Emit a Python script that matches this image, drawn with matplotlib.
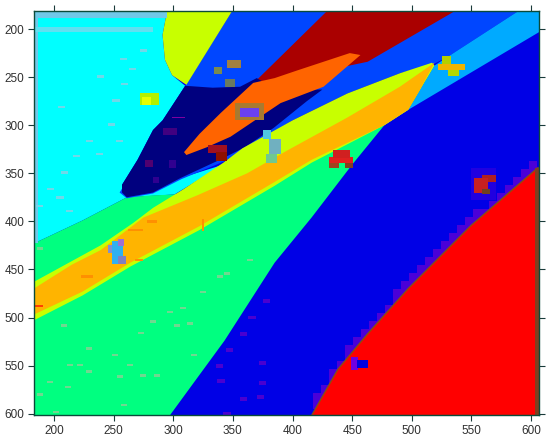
import matplotlib
matplotlib.use("Agg")
import matplotlib.pyplot as plt
import numpy as np
from matplotlib.path import Path

plt.rcParams["font.family"] = ["Liberation Sans", "DejaVu Sans"]

x_ticks = [200, 250, 300, 350, 400, 450, 500, 550, 600]
y_ticks = [200, 250, 300, 350, 400, 450, 500, 550, 600]

# class regions, outlines (x, y in map units)
cyan = [(183, 180), (295, 180), (291, 206), (293, 232), (299, 248), (310, 259), (291, 295), (283, 305),
        (270, 336), (257, 362), (257, 370), (261, 375), (301, 372), (342, 341), (306, 355),
        (261, 375), (224, 399), (183, 423)]
green = [(183, 423), (224, 399), (261, 375), (283, 373), (301, 372), (308, 370), (385, 331), (519, 238),
         (497, 284), (477, 300), (450, 341), (416, 396), (385, 443), (343, 524), (297, 602), (183, 602)]
bright_blue = [(350, 180), (591, 180), (530, 229), (519, 236), (490, 246), (446, 267), (400, 295),
               (358, 326), (342, 338), (307, 356), (283, 371), (261, 376), (255, 370), (310, 259)]
light_blue = [(591, 180), (607, 180), (607, 203), (497, 284), (507, 263), (519, 238), (530, 229)]
yellow_green = [(295, 180), (350, 180), (311, 258), (299, 248), (293, 232), (291, 206)]
dark_red = [(430, 180), (538, 180), (463, 234), (440, 240), (385, 262), (370, 253)]
navy = [(310, 259), (291, 295), (283, 305), (270, 336), (257, 362), (257, 370), (261, 375), (283, 370),
        (306, 355), (339, 336), (360, 323), (384, 303), (412, 275), (425, 263), (385, 262), (370, 251),
        (356, 260), (333, 261)]
dark_orange = [(457, 227), (448, 225), (404, 243), (385, 251), (367, 256), (340, 287), (322, 309),
               (309, 328), (311, 331), (328, 323), (348, 312), (390, 277), (426, 260)]
lime = [(183, 463), (239, 425), (266, 402), (283, 386), (308, 367), (342, 339), (358, 324), (400, 295),
        (446, 267), (490, 246), (517, 235), (519, 238), (507, 263), (497, 284), (477, 300),
        (416, 339), (385, 363), (322, 409), (264, 447), (224, 477), (183, 503)]
orange = [(183, 470), (215, 445), (239, 430), (275, 396), (320, 373), (362, 350), (396, 326), (446, 292),
          (490, 260), (519, 235), (507, 263), (497, 284), (477, 300), (416, 336), (385, 359), (322, 405),
          (264, 443), (224, 473), (183, 497)]
red = [(416, 602), (438, 554), (463, 517), (497, 470), (550, 404), (606, 344), (607, 602)]

# blotches of other classes: left, top, width, height, colour
blob_x = [272, 274, 334, 345, 343, 352, 356, 329, 336, 375, 380, 378, 245, 249, 254, 254,
          431, 434, 431, 444, 525, 522, 530, 550, 559, 552, 559, 449, 454,
          299, 291, 276, 296, 283, 262, 278, 223, 183, 268, 324]
blob_y = [266, 271, 239, 232, 252, 277, 282, 321, 328, 305, 314, 330, 425, 420, 418, 436,
          333, 326, 339, 339, 228, 236, 243, 345, 352, 355, 366, 541, 544,
          291, 303, 336, 336, 354, 408, 399, 456, 487, 439, 398]
blob_w = [16, 7, 7, 12, 9, 24, 16, 16, 9, 7, 10, 9, 7, 9, 5, 6,
          20, 14, 8, 7, 8, 23, 10, 21, 12, 12, 7, 6, 9,
          11, 12, 7, 6, 5, 13, 8, 10, 8, 7, 2]
blob_h = [13, 8, 8, 9, 8, 18, 9, 8, 9, 9, 16, 9, 8, 24, 8, 8,
          6, 8, 6, 6, 8, 7, 6, 33, 7, 15, 6, 14, 9,
          2, 7, 7, 9, 6, 2.5, 2.5, 2.5, 2.5, 2.5, 12]
blob_col = ["#b4f000", "#e6ff00", "#7a8a50", "#a08040", "#6a7a60", "#a87a30", "#6a40f0", "#a01020", "#901000",
            "#50c8e0", "#70b0c0", "#70c890", "#8090d0", "#30b0f0", "#a070d0", "#8080c0",
            "#e02020", "#d02020", "#a04020", "#804020", "#b4d000", "#f0b400", "#b4d800",
            "#2000e0", "#b02020", "#c82020", "#704020", "#7000e0", "#0000e0",
            "#8000a0", "#400080", "#500070", "#300090", "#300090",
            "#ff9000", "#ff9000", "#ff9000", "#ff4000", "#ff9000", "#ff9000"]

# small speckles scattered over the big classes
speck_cyan_x = [258, 239, 266, 275, 259, 252, 206, 248, 238, 230, 219, 209, 197, 205, 188, 213, 255]
speck_cyan_y = [230, 248, 240, 221, 256, 273, 280, 298, 329, 315, 331, 348, 365, 374, 383, 388, 315]
speck_green_x = [188, 208, 229, 213, 222, 251, 283, 303, 314, 297, 308, 273, 264, 255, 229, 197, 212, 188,
                 202, 259, 364, 345, 325, 339, 317, 275, 286]
speck_green_y = [427, 507, 531, 548, 548, 538, 503, 507, 505, 493, 489, 515, 548, 560, 555, 566, 571, 579,
                 597, 590, 439, 453, 472, 456, 538, 559, 559]
speck_blue_x = [378, 366, 359, 347, 339, 375, 340, 375, 359, 373, 345]
speck_blue_y = [481, 498, 515, 532, 548, 545, 564, 566, 583, 581, 598]

fig = plt.figure(figsize=(5.5, 4.37), dpi=100)
ax = fig.add_axes([34 / 550, 1 - 415 / 437, 505 / 550, 404.5 / 437])
ax.set_facecolor("#0000e6")

for region, col in [(cyan, "#00ffff"), (green, "#00ff80"),
                    (bright_blue, "#0046ff"), (light_blue, "#00aaff"), (yellow_green, "#c8ff00"),
                    (dark_red, "#aa0000"), (navy, "#00007f"), (dark_orange, "#ff6400"),
                    (lime, "#c8ff00"), (orange, "#ffb400")]:
    ax.fill(*zip(*region), color=col, lw=0)

# purple stairs along the red class, the map is coarse there
xe = np.arange(183, 613, 6.7)
ye = np.arange(180, 608, 8.3)
xc, yc = np.meshgrid(xe[:-1] + 3.35, ye[:-1] + 4.15)
pts = np.column_stack([xc.ravel() + 3, yc.ravel() + 4])
stairs = Path(red + [red[0]]).contains_points(pts).reshape(xc.shape)
ax.pcolormesh(xe, ye, np.ma.masked_where(~stairs, stairs.astype(float)),
              cmap=matplotlib.colors.ListedColormap(["#4a00d8"]), shading="flat")
ax.fill(*zip(*red), facecolor="#ff0000", edgecolor="#8a5010", lw=1)
ax.bar(605, 258, width=4, bottom=344, color="#804020", lw=0)

ax.bar(184.8, 243, width=3.5, bottom=180, color="#70c8e8", lw=0)
ax.bar(239, 8, width=112, bottom=180, color="#70c8e8", lw=0)
ax.bar(233, 5, width=100, bottom=198, color="#60e0f0", lw=0)

ax.bar(speck_cyan_x, 2.5, width=6, bottom=speck_cyan_y, color="#70d8e8", lw=0)
ax.bar(speck_green_x, 2.5, width=5, bottom=speck_green_y, color="#70d890", lw=0)
ax.bar(speck_blue_x, 4, width=6, bottom=speck_blue_y, color="#4a00d0", lw=0)
ax.bar(blob_x, blob_h, width=blob_w, bottom=blob_y, align="edge", color=blob_col, lw=0)

ax.set_xlim(183.2, 606.7)
ax.set_ylim(601.4, 180.7)
ax.set_xticks(x_ticks)
ax.set_yticks(y_ticks)
ax.tick_params(top=True, right=True, direction="out", length=4, width=0.8, color="#1a3a3a",
               labelsize=8.5, labelcolor="#303030", pad=3)
for s in ax.spines.values():
    s.set_color("#0a4a3a")
    s.set_linewidth(1)

fig.savefig("out.png", dpi=100)
